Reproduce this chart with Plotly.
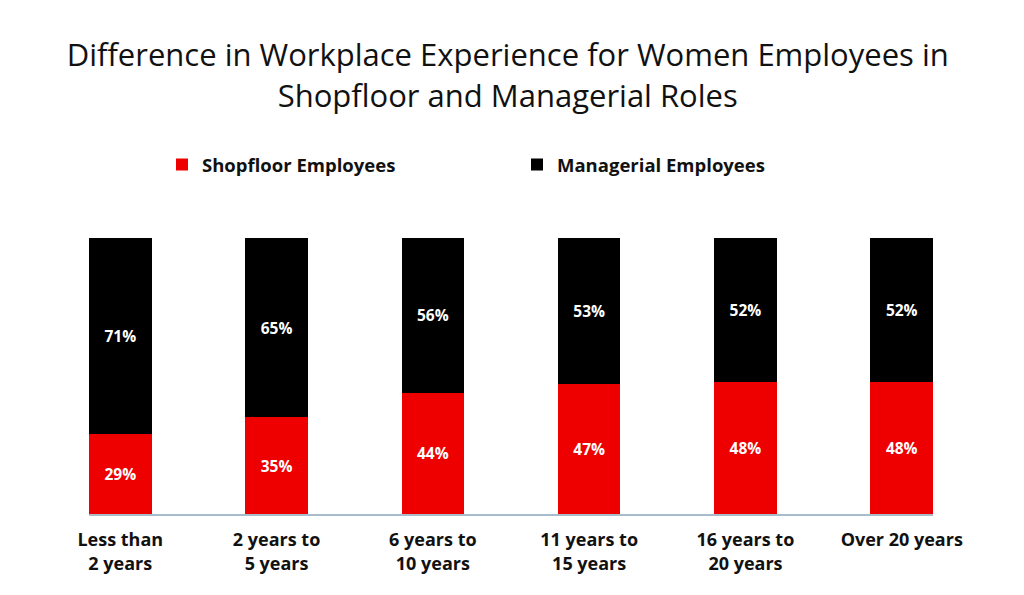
import plotly.graph_objects as go

categories = ["Less than<br>2 years", "2 years to<br>5 years", "6 years to<br>10 years",
              "11 years to<br>15 years", "16 years to<br>20 years", "Over 20 years"]
shopfloor = [29, 35, 44, 47, 48, 48]
managerial = [71, 65, 56, 53, 52, 52]
series_names = ["Shopfloor Employees", "Managerial Employees"]
title_text = "Difference in Workplace Experience for Women Employees in<br>Shopfloor and Managerial Roles"

RED = "#EE0000"
BLACK = "#000000"
FONT = "Open Sans"

fig = go.Figure()
for vals, name, color in [(shopfloor, series_names[0], RED), (managerial, series_names[1], BLACK)]:
    fig.add_trace(go.Bar(
        x=categories, y=vals, name=name, marker_color=color,
        text=[f"{v}%" for v in vals], textposition="inside", insidetextanchor="middle",
        textfont=dict(color="white", size=15.5, family=FONT, weight="bold"),
        marker_line_width=0,
    ))

# page body has an 8px offset; margins compensate so plot area spans x 89-933, y 238-514
fig.update_layout(
    width=1024, height=595,
    barmode="stack", bargap=0.6,
    paper_bgcolor="white", plot_bgcolor="white",
    margin=dict(l=81, r=99, t=230, b=89),
    title=dict(text=title_text, x=0.488, xanchor="center", y=0.902, yanchor="top",
               font=dict(family=FONT, size=31, color="#111111")),
    legend=dict(orientation="h", x=0.0865, xanchor="left",
                y=1.265, yanchor="middle",
                font=dict(family=FONT, size=18.5, color="#111111", weight="bold"),
                entrywidth=310, entrywidthmode="pixels", traceorder="normal"),
    uniformtext=dict(mode="show", minsize=10),
    showlegend=True,
)
fig.update_xaxes(range=[-0.2, 5.2], showline=True, linecolor="#A9BCCB", linewidth=1.5,
                 ticks="", ticklabelstandoff=9,
                 tickfont=dict(family=FONT, size=18, color="#111111", weight="bold"),
                 showgrid=False)
fig.update_yaxes(range=[0, 100], visible=False, showgrid=False)

fig.write_html("out.html")
